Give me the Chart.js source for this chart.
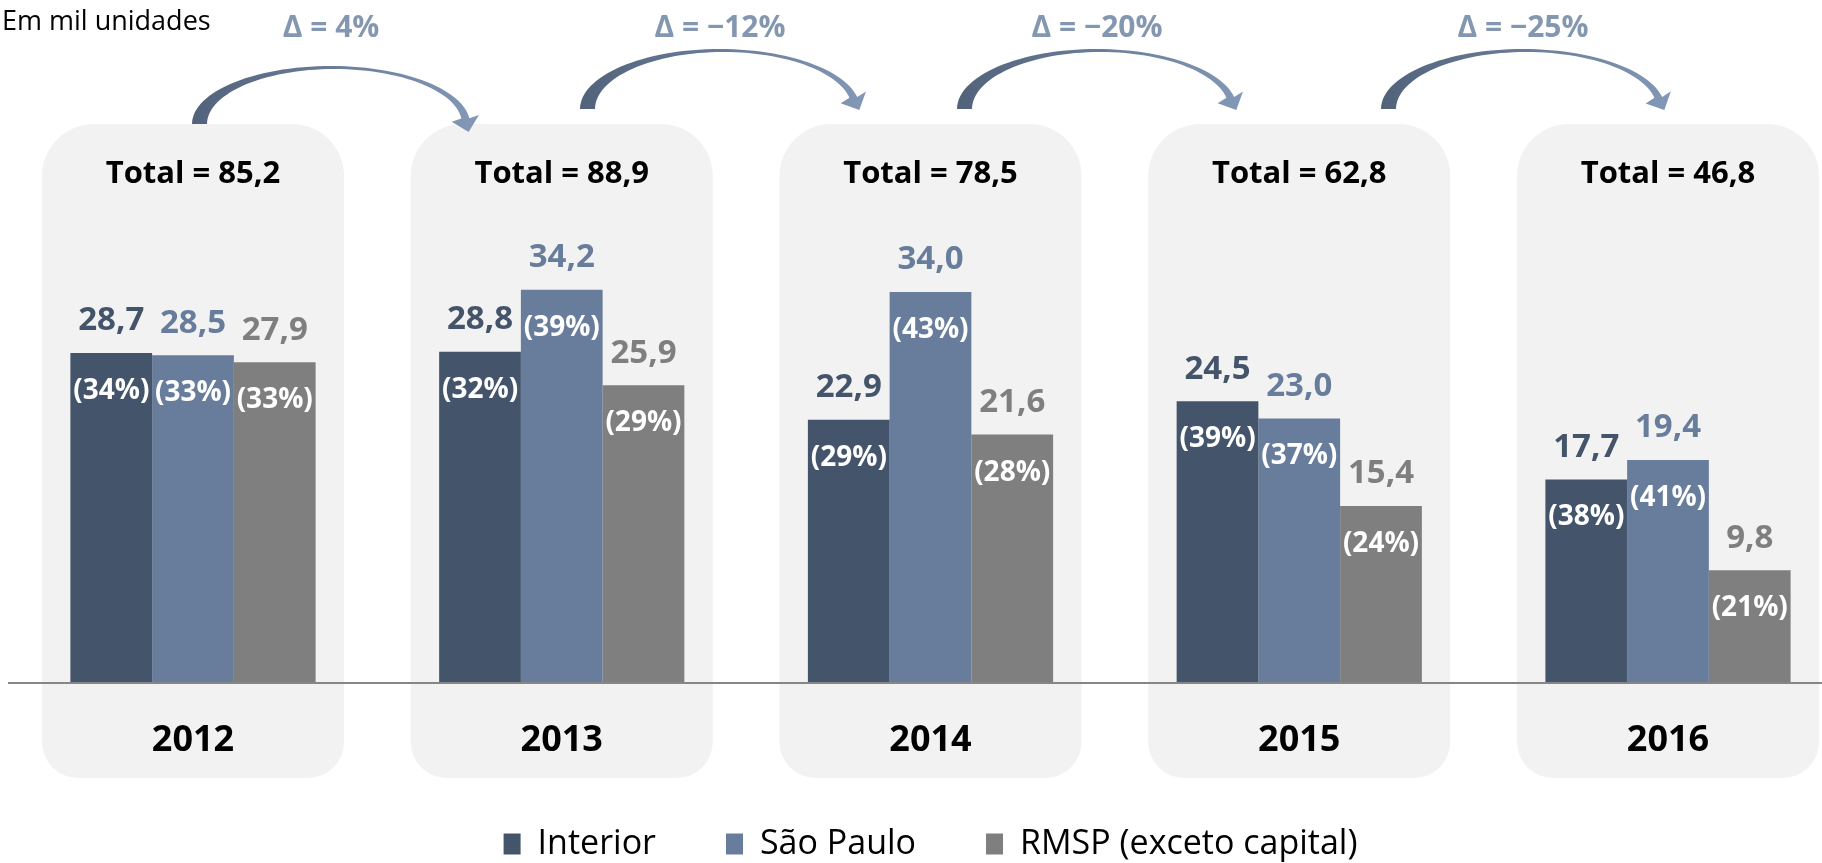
<!DOCTYPE html>
<html lang="pt-BR">
<head>
<meta charset="utf-8">
<title>Em mil unidades</title>
<script src="https://cdn.jsdelivr.net/npm/chart.js@4.4.1/dist/chart.umd.min.js"></script>
<style>
  html, body { margin: 0; padding: 0; background: #fff; overflow: hidden; }
</style>
</head>
<body>
<canvas id="unitsChart" width="1822" height="863"></canvas>
<script>
const years = ["2012", "2013", "2014", "2015", "2016"];
const interior = [28.7, 28.8, 22.9, 24.5, 17.7];
const saoPaulo = [28.5, 34.2, 34.0, 23.0, 19.4];
const rmsp = [27.9, 25.9, 21.6, 15.4, 9.8];
const interiorShare = [34, 32, 29, 39, 38];
const saoPauloShare = [33, 39, 43, 37, 41];
const rmspShare = [33, 29, 28, 24, 21];
const totals = [85.2, 88.9, 78.5, 62.8, 46.8];
const deltas = [4, -12, -20, -25];

const FONT = "'Open Sans', 'Liberation Sans', sans-serif";
const fmt = v => v.toFixed(1).replace(".", ",");
const fmtDelta = d => "\u0394 = " + (d < 0 ? "\u2212" + Math.abs(d) : d) + "%";

// arrows between the year boxes (centre x, base y, radii)
const arrows = [
    { cx: 331, yb: 124, rx: 139, ry: 58, tEnd: 0.1 },
    { cx: 720, yb: 109, rx: 140, ry: 60, tEnd: 0.2 },
    { cx: 1097, yb: 109, rx: 140, ry: 60, tEnd: 0.2 },
    { cx: 1523, yb: 109, rx: 142, ry: 60, tEnd: 0.2 }
];

function drawArrow(ctx, a) {
    const tl = 15, tt = 3, tr = 8, hl = 14, hw = 14;
    const icx = a.cx + (tl - tr) / 2, irx = a.rx - (tl + tr) / 2, iry = a.ry - tt;
    const outer = [], inner = [];
    for (let k = 0; k <= 60; k++) {
        const t = Math.PI - (Math.PI - a.tEnd) * k / 60;
        outer.push([a.cx + a.rx * Math.cos(t), a.yb - a.ry * Math.sin(t)]);
        inner.push([icx + irx * Math.cos(t), a.yb - iry * Math.sin(t)]);
    }
    const o = outer[outer.length - 1], i = inner[inner.length - 1];
    const m = [(o[0] + i[0]) / 2, (o[1] + i[1]) / 2];
    let dx = a.rx * Math.sin(a.tEnd), dy = a.ry * Math.cos(a.tEnd);
    const len = Math.hypot(dx, dy);
    dx /= len; dy /= len;
    const px = dy, py = -dx;

    const grad = ctx.createLinearGradient(a.cx - a.rx, 0, a.cx + a.rx, 0);
    grad.addColorStop(0, "#52627b");
    grad.addColorStop(1, "#8197b5");
    ctx.fillStyle = grad;
    ctx.beginPath();
    outer.forEach((p, k) => k ? ctx.lineTo(p[0], p[1]) : ctx.moveTo(p[0], p[1]));
    ctx.lineTo(m[0] + px * hw, m[1] + py * hw);
    ctx.lineTo(m[0] + dx * hl, m[1] + dy * hl);
    ctx.lineTo(m[0] - px * hw, m[1] - py * hw);
    for (let k = inner.length - 1; k >= 0; k--) ctx.lineTo(inner[k][0], inner[k][1]);
    ctx.closePath();
    ctx.fill();
}

const decorPlugin = {
    id: "decor",
    beforeDraw(chart) {
        const { ctx, scales: { x } } = chart;
        ctx.save();
        ctx.fillStyle = "#f2f2f2";
        years.forEach((yr, i) => {
            const cx = x.getPixelForValue(i);
            ctx.beginPath();
            ctx.roundRect(cx - 151, 124, 302, 654, [52, 52, 36, 36]);
            ctx.fill();
        });
        ctx.restore();
    },
    afterDatasetsDraw(chart) {
        const { ctx, scales: { x, y } } = chart;
        const base = y.getPixelForValue(0);
        ctx.save();
        ctx.strokeStyle = "#868686";
        ctx.lineWidth = 2;
        ctx.beginPath();
        ctx.moveTo(8, base);
        ctx.lineTo(chart.width, base);
        ctx.stroke();

        const shares = [interiorShare, saoPauloShare, rmspShare];
        ctx.textAlign = "center";
        ctx.textBaseline = "middle";
        chart.data.datasets.forEach((ds, d) => {
            chart.getDatasetMeta(d).data.forEach((bar, i) => {
                ctx.font = "bold 33px " + FONT;
                ctx.fillStyle = ds.labelColor;
                ctx.fillText(fmt(ds.data[i]), bar.x, bar.y - 32);
                ctx.font = "bold 28px " + FONT;
                ctx.fillStyle = "#ffffff";
                ctx.fillText("(" + shares[d][i] + "%)", bar.x, bar.y + 38);
            });
        });

        ctx.font = "bold 31px " + FONT;
        ctx.fillStyle = "#000000";
        totals.forEach((t, i) => {
            ctx.fillText("Total = " + fmt(t), x.getPixelForValue(i), 174);
        });
        ctx.restore();
    },
    afterDraw(chart) {
        const { ctx } = chart;
        ctx.save();
        arrows.forEach(a => drawArrow(ctx, a));
        ctx.textAlign = "center";
        ctx.textBaseline = "middle";
        ctx.font = "bold 30px " + FONT;
        ctx.fillStyle = "#8497b0";
        deltas.forEach((d, i) => ctx.fillText(fmtDelta(d), arrows[i].cx, 28));
        ctx.textAlign = "left";
        ctx.font = "27px " + FONT;
        ctx.fillStyle = "#000000";
        ctx.fillText("Em mil unidades", 2, 22);
        ctx.restore();
    }
};

const ctx = document.getElementById("unitsChart").getContext("2d");
new Chart(ctx, {
    type: "bar",
    data: {
        labels: years,
        datasets: [
            { label: "Interior", data: interior, backgroundColor: "#44546a", labelColor: "#44546a" },
            { label: "São Paulo", data: saoPaulo, backgroundColor: "#687d9c", labelColor: "#687d9c" },
            { label: "RMSP (exceto capital)", data: rmsp, backgroundColor: "#7f7f7f", labelColor: "#7f7f7f" }
        ]
    },
    options: {
        responsive: false,
        animation: false,
        devicePixelRatio: 1,
        layout: { padding: { top: 108, left: 193, right: 154, bottom: -8 } },
        datasets: {
            bar: { categoryPercentage: 0.665, barPercentage: 1, clip: false, borderWidth: 0 }
        },
        scales: {
            x: {
                offset: false,
                grid: { display: false, drawTicks: false },
                border: { display: false },
                ticks: { color: "#000", padding: 36, font: { family: FONT, size: 36, weight: "bold" } },
                afterFit: scale => { scale.height = 74; }
            },
            y: { display: false, min: 0, max: 50 }
        },
        plugins: {
            legend: {
                position: "bottom",
                labels: { boxWidth: 17, boxHeight: 21, padding: 70, color: "#000", font: { family: FONT, size: 34 } }
            },
            tooltip: { enabled: false }
        }
    },
    plugins: [decorPlugin]
});
</script>
</body>
</html>
